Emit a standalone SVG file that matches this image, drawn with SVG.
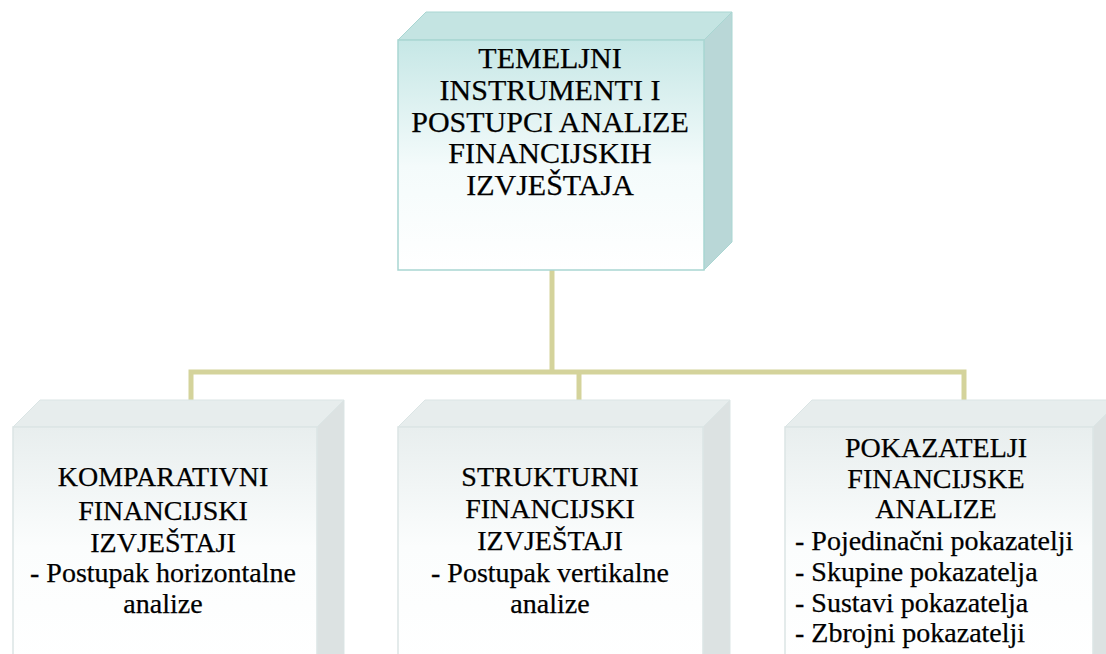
<svg xmlns="http://www.w3.org/2000/svg" width="1106" height="654" viewBox="0 0 1106 654">
<defs>
<linearGradient id="gTop" x1="0" y1="0" x2="0" y2="1">
<stop offset="0" stop-color="#c6e7e6"/>
<stop offset="0.55" stop-color="#f4fbfb"/>
<stop offset="1" stop-color="#ffffff"/>
</linearGradient>
<linearGradient id="gBot" x1="0" y1="0" x2="0" y2="1">
<stop offset="0" stop-color="#e8eeee"/>
<stop offset="0.5" stop-color="#fbfdfd"/>
<stop offset="1" stop-color="#ffffff"/>
</linearGradient>
<style>
.conn{fill:none;stroke:#d4d39b;stroke-width:5}
.tf{fill:#c4e4e2;stroke:#a9d6d2;stroke-width:1}
.tr{fill:#b9d7d7;stroke:#a9d6d2;stroke-width:1}
.tfr{fill:url(#gTop);stroke:#a9d6d2;stroke-width:1.5}
.bf{fill:#e7eded;stroke:#dbe5e5;stroke-width:1}
.br{fill:#dce2e2;stroke:#dbe5e5;stroke-width:1}
.bfr{fill:url(#gBot);stroke:#dbe5e5;stroke-width:1.5}
text{font-family:"Liberation Serif","Times New Roman",serif;fill:#000;stroke:#000;stroke-width:0.25;text-anchor:middle}
.t1{font-size:30px}
.t2{font-size:28px}
.l{text-anchor:start}
</style>
</defs>
<g id="connectors">
<path class="conn" d="M552 270 V372"/>
<path class="conn" d="M191 400 V372 H964 V400"/>
<path class="conn" d="M579 372 V400"/>
</g>
<g id="node-top">
<polygon class="tf" points="398,40 426,12 732,12 704,40"/>
<polygon class="tr" points="704,40 732,12 732,242 704,270"/>
<rect class="tfr" x="398" y="40" width="306" height="230"/>
<text class="t1" x="550" y="68">TEMELJNI</text>
<text class="t1" x="550" y="100">INSTRUMENTI I</text>
<text class="t1" x="550" y="132">POSTUPCI ANALIZE</text>
<text class="t1" x="550" y="163">FINANCIJSKIH</text>
<text class="t1" x="550" y="195">IZVJEŠTAJA</text>
</g>
<g id="node-left">
<polygon class="bf" points="13,427 40,400 344,400 317,427"/>
<polygon class="br" points="317,427 344,400 344,654 317,654"/>
<rect class="bfr" x="13" y="427" width="304" height="240"/>
<text class="t2" x="163" y="486">KOMPARATIVNI</text>
<text class="t2" x="163" y="520">FINANCIJSKI</text>
<text class="t2" x="163" y="552">IZVJEŠTAJI</text>
<text class="t2" x="163" y="582">- Postupak horizontalne</text>
<text class="t2" x="163" y="613">analize</text>
</g>
<g id="node-middle">
<polygon class="bf" points="398,427 425,400 730,400 703,427"/>
<polygon class="br" points="703,427 730,400 730,654 703,654"/>
<rect class="bfr" x="398" y="427" width="305" height="240"/>
<text class="t2" x="550" y="486">STRUKTURNI</text>
<text class="t2" x="550" y="518">FINANCIJSKI</text>
<text class="t2" x="550" y="550">IZVJEŠTAJI</text>
<text class="t2" x="550" y="582">- Postupak vertikalne</text>
<text class="t2" x="550" y="613">analize</text>
</g>
<g id="node-right">
<polygon class="bf" points="785,427 812,400 1120,400 1093,427"/>
<polygon class="br" points="1093,427 1120,400 1120,654 1093,654"/>
<rect class="bfr" x="785" y="427" width="308" height="240"/>
<text class="t2" x="936" y="457">POKAZATELJI</text>
<text class="t2" x="936" y="488">FINANCIJSKE</text>
<text class="t2" x="936" y="518">ANALIZE</text>
<text class="t2 l" x="795" y="550">- Pojedinačni pokazatelji</text>
<text class="t2 l" x="795" y="581">- Skupine pokazatelja</text>
<text class="t2 l" x="795" y="612">- Sustavi pokazatelja</text>
<text class="t2 l" x="795" y="642">- Zbrojni pokazatelji</text>
</g>
</svg>
